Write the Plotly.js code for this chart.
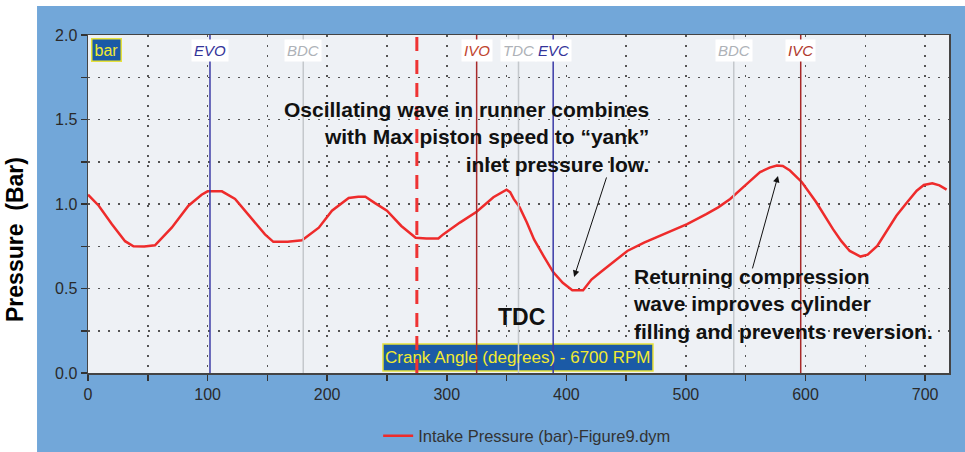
<!DOCTYPE html>
<html>
<head>
<meta charset="utf-8">
<script src="https://cdn.plot.ly/plotly-3.0.1.min.js"></script>
<style>html,body{margin:0;padding:0;background:#fff;}#chart{width:965px;height:452px;}</style>
</head>
<body>
<div id="chart"></div>
<script>
// Crank angle (degrees) and intake pressure (bar)
const crankAngle = [0, 9, 20, 31, 38, 47, 56, 70, 84, 95, 100, 106, 112, 123, 134, 148, 155, 167, 179, 193, 204, 218, 226, 232, 240, 250, 262, 274, 283, 293, 297, 311, 325, 339, 350, 353, 356, 361, 367, 373, 381, 389, 397, 405, 414, 421, 428, 440, 451, 465, 478, 501, 517, 527, 537, 543, 551, 562, 570, 576, 581, 587, 597, 609, 616, 623, 630, 637, 646, 652, 660, 668, 676, 685, 693, 699, 706, 712, 718];
const intakePressure = [1.055, 0.99, 0.88, 0.78, 0.75, 0.748, 0.756, 0.86, 0.99, 1.055, 1.075, 1.075, 1.075, 1.03, 0.94, 0.82, 0.776, 0.776, 0.785, 0.86, 0.96, 1.036, 1.043, 1.043, 1.005, 0.96, 0.87, 0.80, 0.796, 0.796, 0.82, 0.89, 0.954, 1.04, 1.085, 1.07, 1.03, 0.98, 0.89, 0.79, 0.692, 0.597, 0.534, 0.49, 0.49, 0.553, 0.593, 0.663, 0.722, 0.772, 0.81, 0.881, 0.94, 0.98, 1.03, 1.07, 1.119, 1.189, 1.215, 1.228, 1.225, 1.198, 1.129, 1.01, 0.93, 0.851, 0.78, 0.722, 0.689, 0.70, 0.752, 0.84, 0.93, 1.01, 1.079, 1.113, 1.123, 1.11, 1.085];

// Valve event markers
const eventNames = ["EVO", "BDC", "IVO", "TDC", "EVC", "BDC", "IVC"];
const eventAngles = [102, 180, 325, 360, 389, 540, 596];
const eventLineColors = ["#3b3ba6", "#c4c8cc", "#a82a2a", "#c4c8cc", "#3b3ba6", "#c4c8cc", "#a82a2a"];
const eventTextColors = ["#34349a", "#aeb2b8", "#c0452e", "#aeb2b8", "#34349a", "#aeb2b8", "#b03a2e"];
const tdcAngle = 275;

const seriesName = "Intake Pressure (bar)-Figure9.dym";

const shapes = [];
// white strips outside the blue panel
shapes.push({type:'rect', xref:'paper', yref:'paper', x0:-0.2, x1:1.1, y0:1.0858, y1:1.2, fillcolor:'#ffffff', line:{width:0}, layer:'below'});
shapes.push({type:'rect', xref:'paper', yref:'paper', x0:-0.2, x1:-0.0592, y0:-0.3, y1:1.2, fillcolor:'#ffffff', line:{width:0}, layer:'below'});
// crank angle box
shapes.push({type:'rect', xref:'paper', yref:'paper', x0:0.3426, x1:0.6562, y0:0.006, y1:0.0858, fillcolor:'#1b5aa6', line:{color:'#e8e23a', width:1.5}, layer:'above'});
eventAngles.forEach((a, i) => {
  shapes.push({type:'line', xref:'x', yref:'paper', x0:a, x1:a, y0:0, y1:1, line:{color:eventLineColors[i], width:1.5}, layer:'above'});
});
shapes.push({type:'line', xref:'x', yref:'paper', x0:tdcAngle, x1:tdcAngle, y0:0, y1:1, line:{color:'#ee3333', width:3, dash:'14px,9px'}, layer:'above'});

const annotations = [];
eventNames.forEach((n, i) => {
  annotations.push({x:eventAngles[i], xref:'x', y:0.9527, yref:'paper', text:'<i>'+n+'</i>', showarrow:false,
    font:{family:'Liberation Sans, Arial', size:15, color:eventTextColors[i]}, bgcolor:'#ffffff', borderpad:2, xanchor:'center', yanchor:'middle'});
});
annotations.push({x:0.004, xref:'paper', y:0.991, yref:'paper', text:'bar', showarrow:false, xanchor:'left', yanchor:'top',
  font:{family:'Liberation Sans, Arial', size:16, color:'#f2ea30'}, bgcolor:'#1b5aa6', bordercolor:'#e8e23a', borderwidth:1.5, borderpad:2});
annotations.push({x:0.4994, xref:'paper', y:0.0473, yref:'paper', text:'Crank Angle (degrees) - 6700 RPM', showarrow:false,
  font:{family:'Liberation Sans, Arial', size:17, color:'#f2ea30'}, xanchor:'center', yanchor:'middle'});
annotations.push({x:0.6539, xref:'paper', y:0.698, yref:'paper', xanchor:'right', yanchor:'middle', align:'right', showarrow:false,
  text:'<b>Oscillating wave in runner combines<br>with Max piston speed to \u201cyank\u201d<br>inlet pressure low.</b>',
  font:{family:'Liberation Sans, Arial', size:21, color:'#111'}});
annotations.push({x:0.6307, xref:'paper', y:0.2056, yref:'paper', xanchor:'left', yanchor:'middle', align:'left', showarrow:false,
  text:'<b>Returning compression<br>wave improves cylinder<br>filling and prevents reversion.</b>',
  font:{family:'Liberation Sans, Arial', size:21, color:'#111'}});
annotations.push({x:0.504, xref:'paper', y:0.1657, yref:'paper', xanchor:'center', yanchor:'middle', showarrow:false,
  text:'<b>TDC</b>', font:{family:'Liberation Sans, Arial', size:23, color:'#111'}});
annotations.push({x:-0.0848, xref:'paper', y:0.3965, yref:'paper', xanchor:'center', yanchor:'middle', showarrow:false, textangle:-90,
  text:'<b>Pressure  (Bar)</b>', font:{family:'Liberation Sans, Arial', size:23, color:'#000'}});
// arrows
annotations.push({x:406.5, y:0.568, xref:'x', yref:'y', ax:434, ay:1.166, axref:'x', ayref:'y', text:'', showarrow:true,
  arrowhead:2, arrowsize:1.3, arrowwidth:1, arrowcolor:'#111', standoff:0});
annotations.push({x:577, y:1.166, xref:'x', yref:'y', ax:555.3, ay:0.61, axref:'x', ayref:'y', text:'', showarrow:true,
  arrowhead:2, arrowsize:1.3, arrowwidth:1, arrowcolor:'#111', standoff:0});

const trace = {x:crankAngle, y:intakePressure, type:'scatter', mode:'lines', name:seriesName,
  line:{color:'#ee2b2b', width:2.5, shape:'linear'}};

const gridStyle = {gridcolor:'#555', gridwidth:1.5, griddash:'1.5px,8.5px'};
const layout = {
  width:965, height:452,
  margin:{l:88, r:16, t:35, b:79, autoexpand:false},
  paper_bgcolor:'#72a7d9', plot_bgcolor:'#eef1f5',
  font:{family:'Liberation Sans, Arial', size:16, color:'#2a2a2a'},
  xaxis:{range:[0,720], dtick:100, tick0:0, ticks:'outside', ticklen:6, tickcolor:'#333', tickwidth:1.5,
    showline:true, linecolor:'#444', linewidth:1.5, mirror:true, zeroline:false, automargin:false,
    showgrid:true, ...gridStyle,
    minor:{dtick:50, ticks:'outside', ticklen:6, tickcolor:'#333', tickwidth:1.5, showgrid:true, ...gridStyle},
    tickfont:{size:16, color:'#2a2a2a'}},
  yaxis:{range:[0,2], dtick:0.5, tick0:0, tickformat:'.1f', ticks:'outside', ticklen:6, tickcolor:'#333', tickwidth:1.5,
    showline:true, linecolor:'#444', linewidth:1.5, mirror:true, zeroline:false, automargin:false,
    showgrid:true, ...gridStyle,
    minor:{dtick:0.25, ticks:'outside', ticklen:6, tickcolor:'#333', tickwidth:1.5, showgrid:true, ...gridStyle},
    tickfont:{size:16, color:'#2a2a2a'}},
  showlegend:true,
  legend:{orientation:'h', x:0.337, xanchor:'left', y:-0.1864, yanchor:'middle', bgcolor:'rgba(0,0,0,0)',
    font:{size:16.5, color:'#333'}},
  shapes:shapes,
  annotations:annotations
};

Plotly.newPlot('chart', [trace], layout, {displayModeBar:false, staticPlot:true});
</script>
</body>
</html>
